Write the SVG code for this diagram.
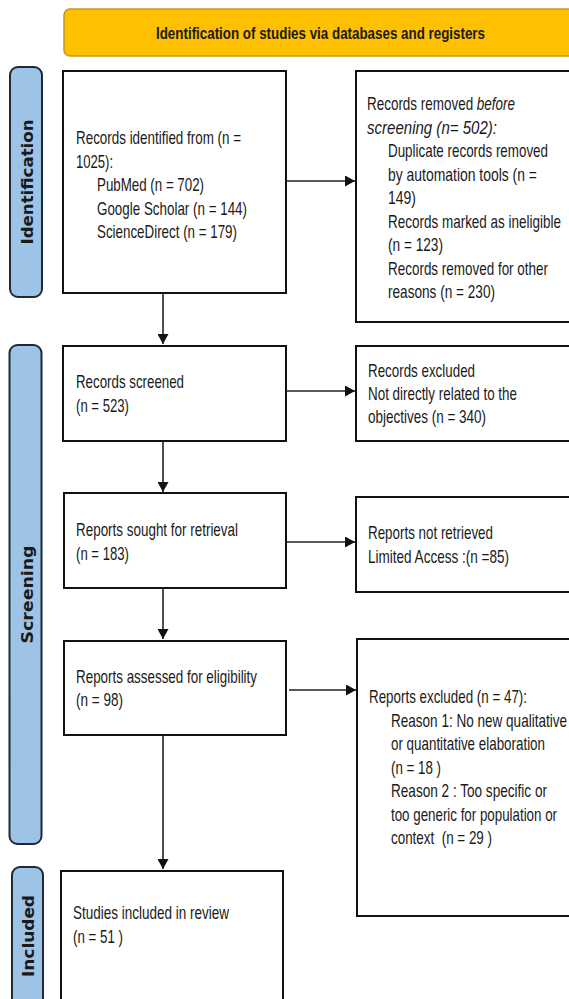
<svg xmlns="http://www.w3.org/2000/svg" width="569" height="999" viewBox="0 0 569 999">
<style>
.bg{fill:#ffffff}
.box{fill:#ffffff;stroke:#111111;stroke-width:2}
.side{fill:#9dc3e6;stroke:#1f2a36;stroke-width:2}
.hdr{fill:#ffc000;stroke:#c49a1c;stroke-width:1.5}
.t{font-family:"Liberation Sans",Arial,sans-serif;font-size:17.5px;fill:#1a1a1a}
.ht{font-family:"Liberation Sans",Arial,sans-serif;font-size:17px;font-weight:bold;fill:#1a1a1a}
.st{font-family:"DejaVu Sans","Liberation Sans",sans-serif;font-size:16px;font-weight:bold;fill:#1a1a1a}
.c{fill:none;stroke:#222222;stroke-width:1.6}
</style>
<defs>
<marker id="ah" markerUnits="userSpaceOnUse" markerWidth="10" markerHeight="11" refX="10" refY="5.5" orient="auto">
<path d="M0,0 L10,5.5 L0,11 z" fill="#111111"/>
</marker>
</defs>
<rect class="bg" x="0" y="0" width="569" height="999"/>

<g id="header">
<rect class="hdr" x="64" y="9" width="530" height="47" rx="6"/>
<text class="ht" transform="matrix(0.787,0,0,1,156,39)" textLength="418" lengthAdjust="spacingAndGlyphs">Identification of studies via databases and registers</text>
</g>

<g id="label-identification">
<rect class="side" x="10" y="67" width="32" height="230" rx="8"/>
<text class="st" transform="translate(33,182) rotate(-90)" text-anchor="middle" textLength="125" lengthAdjust="spacingAndGlyphs">Identification</text>
</g>
<g id="label-screening">
<rect class="side" x="9.5" y="345" width="32" height="499" rx="8"/>
<text class="st" transform="translate(33,594.5) rotate(-90)" text-anchor="middle" textLength="98" lengthAdjust="spacingAndGlyphs">Screening</text>
</g>
<g id="label-included">
<rect class="side" x="12" y="867" width="31" height="150" rx="8"/>
<text class="st" transform="translate(34,936) rotate(-90)" text-anchor="middle" textLength="82" lengthAdjust="spacingAndGlyphs">Included</text>
</g>

<g id="records-identified">
<rect class="box" x="63" y="71" width="223" height="222"/>
<text class="t" transform="matrix(0.77,0,0,1,76,144)" textLength="214.3" lengthAdjust="spacingAndGlyphs">Records identified from (n =</text>
<text class="t" transform="matrix(0.77,0,0,1,76,167.5)" textLength="48.1" lengthAdjust="spacingAndGlyphs">1025):</text>
<text class="t" transform="matrix(0.77,0,0,1,97,191)" textLength="139" lengthAdjust="spacingAndGlyphs">PubMed (n = 702)</text>
<text class="t" transform="matrix(0.77,0,0,1,97,214.5)" textLength="194.8" lengthAdjust="spacingAndGlyphs">Google Scholar (n = 144)</text>
<text class="t" transform="matrix(0.77,0,0,1,97,238)" textLength="181.8" lengthAdjust="spacingAndGlyphs">ScienceDirect (n = 179)</text>
</g>

<g id="records-removed">
<rect class="box" x="356" y="71" width="220" height="251"/>
<text class="t" transform="matrix(0.77,0,0,1,367,110)" textLength="192.2" lengthAdjust="spacingAndGlyphs">Records removed <tspan font-style="italic">before</tspan></text>
<text class="t" transform="matrix(0.77,0,0,1,367,133.5)" textLength="168.8" lengthAdjust="spacingAndGlyphs" font-style="italic">screening (n= 502):</text>
<text class="t" transform="matrix(0.77,0,0,1,388,157)" textLength="207.8" lengthAdjust="spacingAndGlyphs">Duplicate records removed</text>
<text class="t" transform="matrix(0.77,0,0,1,388,180.5)" textLength="193.5" lengthAdjust="spacingAndGlyphs">by automation tools (n =</text>
<text class="t" transform="matrix(0.77,0,0,1,388,204)" textLength="36.4" lengthAdjust="spacingAndGlyphs">149)</text>
<text class="t" transform="matrix(0.77,0,0,1,388,227.5)" textLength="224.7" lengthAdjust="spacingAndGlyphs">Records marked as ineligible</text>
<text class="t" transform="matrix(0.77,0,0,1,388,251)" textLength="71.4" lengthAdjust="spacingAndGlyphs">(n = 123)</text>
<text class="t" transform="matrix(0.77,0,0,1,388,274.5)" textLength="207.8" lengthAdjust="spacingAndGlyphs">Records removed for other</text>
<text class="t" transform="matrix(0.77,0,0,1,388,298)" textLength="139" lengthAdjust="spacingAndGlyphs">reasons (n = 230)</text>
</g>

<g id="records-screened">
<rect class="box" x="63" y="346" width="223" height="95"/>
<text class="t" transform="matrix(0.77,0,0,1,76,388)" textLength="140.3" lengthAdjust="spacingAndGlyphs">Records screened</text>
<text class="t" transform="matrix(0.77,0,0,1,76,412)" textLength="68.8" lengthAdjust="spacingAndGlyphs">(n = 523)</text>
</g>

<g id="records-excluded">
<rect class="box" x="356" y="346" width="220" height="95"/>
<text class="t" transform="matrix(0.77,0,0,1,368,377)" textLength="139" lengthAdjust="spacingAndGlyphs">Records excluded</text>
<text class="t" transform="matrix(0.77,0,0,1,368,400)" textLength="193.5" lengthAdjust="spacingAndGlyphs">Not directly related to the</text>
<text class="t" transform="matrix(0.77,0,0,1,368,423)" textLength="153.2" lengthAdjust="spacingAndGlyphs">objectives (n = 340)</text>
</g>

<g id="reports-sought">
<rect class="box" x="64" y="493" width="222" height="95"/>
<text class="t" transform="matrix(0.77,0,0,1,76,536)" textLength="210.4" lengthAdjust="spacingAndGlyphs">Reports sought for retrieval</text>
<text class="t" transform="matrix(0.77,0,0,1,76,560)" textLength="68.8" lengthAdjust="spacingAndGlyphs">(n = 183)</text>
</g>

<g id="reports-not-retrieved">
<rect class="box" x="356" y="497" width="220" height="95"/>
<text class="t" transform="matrix(0.77,0,0,1,368,539)" textLength="162.3" lengthAdjust="spacingAndGlyphs">Reports not retrieved</text>
<text class="t" transform="matrix(0.77,0,0,1,368,563)" textLength="183.1" lengthAdjust="spacingAndGlyphs">Limited Access :(n =85)</text>
</g>

<g id="reports-assessed">
<rect class="box" x="64" y="641" width="222" height="94"/>
<text class="t" transform="matrix(0.77,0,0,1,76,683)" textLength="235.1" lengthAdjust="spacingAndGlyphs">Reports assessed for eligibility</text>
<text class="t" transform="matrix(0.77,0,0,1,76,706)" textLength="61" lengthAdjust="spacingAndGlyphs">(n = 98)</text>
</g>

<g id="reports-excluded">
<rect class="box" x="357" y="639" width="220" height="277"/>
<text class="t" transform="matrix(0.77,0,0,1,369,703)" textLength="205.2" lengthAdjust="spacingAndGlyphs">Reports excluded (n = 47):</text>
<text class="t" transform="matrix(0.77,0,0,1,391,726.5)" textLength="228.6" lengthAdjust="spacingAndGlyphs">Reason 1: No new qualitative</text>
<text class="t" transform="matrix(0.77,0,0,1,391,750)" textLength="200" lengthAdjust="spacingAndGlyphs">or quantitative elaboration</text>
<text class="t" transform="matrix(0.77,0,0,1,391,773.5)" textLength="64.9" lengthAdjust="spacingAndGlyphs">(n = 18 )</text>
<text class="t" transform="matrix(0.77,0,0,1,391,797)" textLength="202.6" lengthAdjust="spacingAndGlyphs">Reason 2 : Too specific or</text>
<text class="t" transform="matrix(0.77,0,0,1,391,820.5)" textLength="215.6" lengthAdjust="spacingAndGlyphs">too generic for population or</text>
<text class="t" transform="matrix(0.77,0,0,1,391,844)" textLength="131.2" lengthAdjust="spacingAndGlyphs" xml:space="preserve">context  (n = 29 )</text>
</g>

<g id="studies-included">
<rect class="box" x="61" y="871" width="222" height="150"/>
<text class="t" transform="matrix(0.77,0,0,1,73,919)" textLength="202.6" lengthAdjust="spacingAndGlyphs">Studies included in review</text>
<text class="t" transform="matrix(0.77,0,0,1,73,943)" textLength="64.9" lengthAdjust="spacingAndGlyphs">(n = 51 )</text>
</g>

<g id="connectors">
<path class="c" d="M163,293 V344" marker-end="url(#ah)"/>
<path class="c" d="M163,441 V492" marker-end="url(#ah)"/>
<path class="c" d="M163,588 V639" marker-end="url(#ah)"/>
<path class="c" d="M163,735 V869" marker-end="url(#ah)"/>
<path class="c" d="M286,181 H355" marker-end="url(#ah)"/>
<path class="c" d="M286,391 H355" marker-end="url(#ah)"/>
<path class="c" d="M287,542 H355" marker-end="url(#ah)"/>
<path class="c" d="M289,690 H356" marker-end="url(#ah)"/>
</g>
</svg>
